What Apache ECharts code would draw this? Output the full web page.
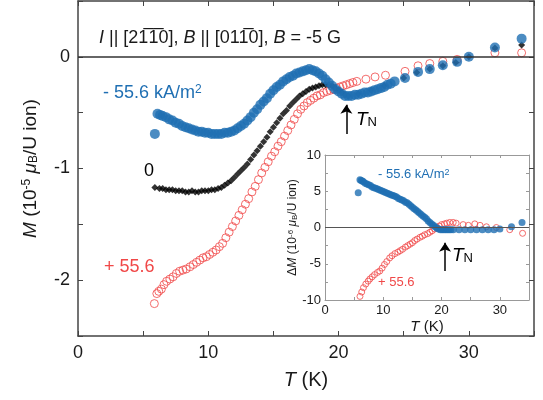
<!DOCTYPE html>
<html>
<head>
<meta charset="utf-8">
<script src="https://cdn.jsdelivr.net/npm/echarts@6/dist/echarts.min.js"></script>
<style>
  html, body { margin: 0; padding: 0; background: #fff; }
  #chart { width: 543px; height: 400px; }
</style>
</head>
<body>
<div id="chart"></div>
<script>
// main panel, M in 1e-5 muB/U ion, [T (K), M]
const blueMain = [
  [5.9,-0.69],[6.1,-0.51],[6.3,-0.52],[6.5,-0.53],[6.75,-0.54],[7.0,-0.56],[7.25,-0.57],[7.5,-0.59],
  [7.75,-0.60],[8.0,-0.62],[8.25,-0.63],[8.5,-0.64],[8.75,-0.65],[9.0,-0.66],[9.25,-0.67],[9.5,-0.67],
  [9.75,-0.68],[10.0,-0.68],[10.25,-0.69],[10.5,-0.69],[10.75,-0.69],[11.0,-0.69],[11.25,-0.68],[11.5,-0.68],
  [11.75,-0.67],[12.0,-0.66],[12.25,-0.64],[12.5,-0.62],[12.75,-0.60],[13.0,-0.57],[13.25,-0.54],[13.5,-0.50],
  [13.75,-0.47],[14.0,-0.43],[14.25,-0.40],[14.5,-0.37],[14.75,-0.33],[15.0,-0.30],[15.25,-0.27],[15.5,-0.25],
  [15.75,-0.22],[16.0,-0.20],[16.25,-0.18],[16.5,-0.17],[16.75,-0.15],[17.0,-0.14],[17.25,-0.13],[17.5,-0.12],
  [17.75,-0.11],[18.0,-0.12],[18.25,-0.13],[18.5,-0.15],[18.75,-0.17],[19.0,-0.20],[19.25,-0.23],[19.5,-0.26],
  [19.75,-0.29],[20.0,-0.31],[20.25,-0.33],[20.5,-0.35],[20.75,-0.35],[21.0,-0.35],[21.25,-0.34],[21.5,-0.34],
  [21.75,-0.33],[22.0,-0.32],[22.25,-0.32],[22.5,-0.31],[22.75,-0.30],[23.0,-0.29],[23.25,-0.28],[23.5,-0.27],
  [23.75,-0.25],[24.0,-0.24],[24.3,-0.22],[25.1,-0.19],[26.1,-0.135],[27.0,-0.11],[28.0,-0.075],[29.1,-0.045],
  [30.0,0.0],[32.0,0.083],[34.05,0.163]
];
const blackMain = [
  [5.9,-1.17],[6.25,-1.18],[6.5,-1.18],[6.75,-1.19],[7.0,-1.19],[7.25,-1.19],[7.5,-1.20],[7.75,-1.20],
  [8.0,-1.20],[8.25,-1.21],[8.5,-1.21],[8.75,-1.20],[9.0,-1.21],[9.25,-1.21],[9.5,-1.20],[9.75,-1.20],
  [10.0,-1.20],[10.25,-1.19],[10.5,-1.19],[10.75,-1.18],[11.0,-1.17],[11.25,-1.15],[11.5,-1.13],[11.75,-1.11],
  [12.0,-1.08],[12.25,-1.05],[12.5,-1.02],[12.75,-0.99],[13.0,-0.96],[13.25,-0.92],[13.5,-0.88],[13.75,-0.84],
  [14.0,-0.80],[14.25,-0.76],[14.5,-0.72],[14.75,-0.67],[15.0,-0.63],[15.25,-0.59],[15.5,-0.55],[15.75,-0.51],
  [16.0,-0.48],[16.25,-0.44],[16.5,-0.41],[16.75,-0.38],[17.0,-0.35],[17.25,-0.33],[17.5,-0.31],[17.75,-0.29],
  [18.0,-0.28],[18.25,-0.27],[18.5,-0.26],[18.75,-0.25],[19.0,-0.25],[19.25,-0.25],[19.5,-0.26],[19.75,-0.28],
  [20.0,-0.30],[20.25,-0.32],[20.5,-0.34],[20.75,-0.35],[21.5,-0.33],[22.5,-0.30],[23.5,-0.26],[25.0,-0.19],
  [26.0,-0.14],[27.0,-0.11],[28.0,-0.08],[29.0,-0.05],[30.0,0.0],[32.0,0.08],[34.05,0.105]
];
const redMain = [
  [5.86,-2.21],[6.05,-2.12],[6.2,-2.10],[6.4,-2.08],[6.6,-2.04],[6.8,-2.01],[7.05,-1.99],[7.3,-1.97],
  [7.55,-1.94],[7.8,-1.92],[8.05,-1.91],[8.3,-1.90],[8.6,-1.88],[8.85,-1.86],[9.1,-1.84],[9.35,-1.82],
  [9.6,-1.80],[9.85,-1.79],[10.1,-1.77],[10.35,-1.75],[10.6,-1.73],[10.85,-1.70],[11.1,-1.67],[11.35,-1.62],
  [11.6,-1.57],[11.85,-1.52],[12.1,-1.47],[12.35,-1.42],[12.6,-1.37],[12.85,-1.32],[13.1,-1.27],[13.35,-1.21],
  [13.6,-1.16],[13.85,-1.10],[14.1,-1.04],[14.35,-0.99],[14.6,-0.94],[14.85,-0.89],[15.1,-0.85],[15.35,-0.80],
  [15.6,-0.76],[15.85,-0.71],[16.1,-0.66],[16.35,-0.61],[16.6,-0.56],[16.85,-0.51],[17.1,-0.47],[17.35,-0.44],
  [17.6,-0.41],[17.85,-0.39],[18.1,-0.37],[18.35,-0.35],[18.6,-0.34],[18.85,-0.32],[19.1,-0.31],[19.35,-0.30],
  [19.6,-0.29],[19.85,-0.28],[20.1,-0.27],[20.35,-0.26],[20.6,-0.25],[20.85,-0.24],[21.1,-0.23],[21.4,-0.22],
  [22.1,-0.20],[22.8,-0.18],[23.6,-0.165],[25.1,-0.13],[26.1,-0.08],[27.0,-0.06],[28.0,-0.04],[29.1,-0.023],
  [32.0,0.036],[34.05,0.036]
];

// inset, dM in 1e-6 muB/U ion
const blueInset = [
  [5.7,4.8],[6.0,6.6],[6.2,6.5],[6.4,6.4],[6.6,6.3],[6.9,6.1],[7.2,6.0],[7.5,5.9],[7.8,5.8],[8.1,5.6],
  [8.4,5.5],[8.7,5.4],[9.0,5.3],[9.3,5.2],[9.6,5.1],[9.9,5.0],[10.2,4.9],[10.5,4.8],[10.8,4.7],[11.1,4.6],
  [11.4,4.5],[11.7,4.4],[12.0,4.3],[12.3,4.2],[12.6,4.0],[12.9,3.9],[13.2,3.8],[13.5,3.7],[13.8,3.5],[14.1,3.4],
  [14.4,3.2],[14.7,3.0],[15.0,2.8],[15.3,2.6],[15.6,2.4],[15.9,2.2],[16.2,2.0],[16.5,1.8],[16.8,1.6],[17.1,1.4],
  [17.4,1.2],[17.7,0.9],[18.0,0.7],[18.3,0.5],[18.6,0.3],[18.9,0.1],[19.2,-0.1],[19.5,-0.2],[19.8,-0.3],[20.1,-0.3],
  [20.4,-0.3],[20.7,-0.3],[21.0,-0.3],[21.3,-0.3],[21.6,-0.3],[22,-0.3],[23,-0.3],[24,-0.3],[25,-0.3],[26,-0.3],
  [27,-0.3],[28,-0.3],[29,-0.3],[30,-0.2],[32,0.1],[33.8,0.7]
];
const redInset = [
  [6.0,-9.5],[6.3,-8.9],[6.6,-8.3],[7.0,-7.8],[7.4,-7.4],[7.7,-7.1],[8.1,-6.8],[8.5,-6.5],[9.0,-6.2],[9.4,-6.0],
  [9.8,-5.6],[10.2,-5.1],[10.6,-4.7],[11.1,-4.2],[11.5,-3.9],[12.0,-3.6],[12.5,-3.4],[12.9,-3.2],[13.3,-3.0],[13.8,-2.7],
  [14.2,-2.5],[14.6,-2.3],[15.0,-2.1],[15.4,-1.8],[15.8,-1.6],[16.3,-1.35],[16.7,-1.2],[17.1,-1.0],[17.6,-0.85],[18.0,-0.65],
  [18.4,-0.45],[18.8,-0.2],[19.2,0.0],[19.6,0.2],[20.0,0.4],[20.5,0.5],[20.9,0.6],[21.4,0.7],[22.0,0.7],[22.5,0.6],
  [23.7,0.4],[24.6,0.3],[25.7,0.5],[26.6,0.3],[27.7,0.1],[29.4,0.0],[31.7,-0.3],[33.9,-0.8]
];

const TN = 20.6;
const mainArrow = [-0.69, -0.43];
const insetArrow = [-6.0, -2.1];

const FONT = '"Liberation Sans", Arial, sans-serif';
const BLUE = '#1f6fb3';
const RED = '#f04848';

const chart = echarts.init(document.getElementById('chart'));

function frameAxis(grid, pos, min, max, step, fmt, color, size, extra) {
  return Object.assign({
    type: 'value', gridIndex: grid, position: pos, min: min, max: max, interval: step,
    axisLine: { show: true, onZero: false, lineStyle: { color: color, width: grid === 0 ? 1.5 : 1 } },
    axisTick: { show: true, inside: true, length: grid === 0 ? 5 : 3, lineStyle: { color: color } },
    axisLabel: fmt ? { show: true, formatter: fmt, color: '#1a1a1a', fontSize: size, fontFamily: FONT, margin: grid === 0 ? 8 : 4 } : { show: false },
    splitLine: { show: false }
  }, extra || {});
}
const everyTen = v => (v % 10 === 0 ? String(v) : '');
const intOnly = v => (Number.isInteger(v) ? String(v) : '');
const everyFive = v => (v % 5 === 0 ? String(v) : '');

// rich styles for axis names (label style: color)
const richName = (size) => ({
  i: { fontStyle: 'italic', fontSize: size, fontFamily: FONT, color: '#1a1a1a' },
  sup: { fontSize: Math.round(size * 0.65), verticalAlign: 'top', fontFamily: FONT, color: '#1a1a1a' },
  sub: { fontSize: Math.round(size * 0.65), verticalAlign: 'bottom', fontFamily: FONT, color: '#1a1a1a' },
  n: { fontSize: size, fontFamily: FONT, color: '#1a1a1a' }
});
// rich styles for graphic text (zrender style: fill)
const richText = (size, col) => ({
  i: { fontStyle: 'italic', fontSize: size, fontFamily: FONT, fill: col },
  sup: { fontSize: Math.round(size * 0.68), verticalAlign: 'top', fontFamily: FONT, fill: col },
  sub: { fontSize: Math.round(size * 0.68), verticalAlign: 'bottom', fontFamily: FONT, fill: col },
  n: { fontSize: size, fontFamily: FONT, fill: col }
});

function arrowLine(from, to) {
  return {
    silent: true, symbol: ['none', 'arrow'], symbolSize: [10, 10], label: { show: false }, animation: false,
    lineStyle: { color: '#000', width: 1.5, type: 'solid' },
    data: [[
      { coord: [TN, from], symbol: 'none' },
      { coord: [TN, to], symbol: 'arrow', symbolSize: 9 }
    ]]
  };
}

const option = {
  animation: false,
  grid: [
    { left: 78, top: 1, width: 456, height: 335 },
    { left: 325, top: 155, width: 204, height: 145 }
  ],
  xAxis: [
    frameAxis(0, 'bottom', 0, 35, 5, everyTen, '#444', 18, {
      name: '{i|T}{n| (K)}', nameLocation: 'middle', nameGap: 34,
      nameTextStyle: { rich: richName(20) }
    }),
    frameAxis(0, 'top', 0, 35, 5, null, '#444', 18),
    frameAxis(1, 'bottom', 0, 35, 5, everyTen, '#999', 13, {
      name: '{i|T}{n| (K)}', nameLocation: 'middle', nameGap: 19,
      nameTextStyle: { rich: richName(15) }
    }),
    frameAxis(1, 'top', 0, 35, 5, null, '#999', 13)
  ],
  yAxis: [
    frameAxis(0, 'left', -2.5, 0.5, 0.5, intOnly, '#444', 18, {
      name: '{i|M}{n| (10}{sup|-5}{n| }{i|μ}{sub|B}{n|/U ion)}', nameLocation: 'middle', nameGap: 38,
      nameTextStyle: { rich: richName(19) }
    }),
    frameAxis(0, 'right', -2.5, 0.5, 0.5, null, '#444', 18),
    frameAxis(1, 'left', -10, 10, 2.5, everyFive, '#999', 13, {
      name: '{n|Δ}{i|M}{n| (10}{sup|-6}{n| }{i|μ}{sub|B}{n|/U ion)}', nameLocation: 'middle', nameGap: 26,
      nameTextStyle: { rich: richName(12) }
    }),
    frameAxis(1, 'right', -10, 10, 2.5, null, '#999', 13)
  ],
  series: [
    {
      type: 'scatter', xAxisIndex: 0, yAxisIndex: 0, data: redMain, symbol: 'circle', symbolSize: 8,
      itemStyle: { color: 'rgba(255,255,255,0)', borderColor: RED, borderWidth: 1 }, z: 2,
      markLine: {
        silent: true, symbol: 'none', label: { show: false }, animation: false,
        lineStyle: { color: '#333', width: 1.5, type: 'solid' },
        data: [{ yAxis: 0 }]
      }
    },
    {
      type: 'scatter', xAxisIndex: 0, yAxisIndex: 0, data: blackMain, symbol: 'diamond', symbolSize: 7,
      itemStyle: { color: '#000' }, z: 3
    },
    {
      type: 'scatter', xAxisIndex: 0, yAxisIndex: 0, data: blueMain, symbol: 'circle', symbolSize: 10,
      itemStyle: { color: BLUE }, z: 4,
      markLine: arrowLine(mainArrow[0], mainArrow[1])
    },
    {
      type: 'scatter', xAxisIndex: 2, yAxisIndex: 2, data: redInset, symbol: 'circle', symbolSize: 6,
      itemStyle: { color: 'rgba(255,255,255,0)', borderColor: RED, borderWidth: 1 }, z: 2,
      markLine: {
        silent: true, symbol: 'none', label: { show: false }, animation: false,
        lineStyle: { color: '#555', width: 1, type: 'solid' },
        data: [{ yAxis: 0 }]
      }
    },
    {
      type: 'scatter', xAxisIndex: 2, yAxisIndex: 2, data: blueInset, symbol: 'circle', symbolSize: 7,
      itemStyle: { color: BLUE }, z: 3,
      markLine: arrowLine(insetArrow[0], insetArrow[1])
    }
  ],
  graphic: [
    {
      type: 'text', left: 99, top: 29, z: 10,
      style: {
        text: '{i|I}{n| || [21\u03051\u03050], }{i|B}{n| || [011\u03050], }{i|B}{n| = -5 G}',
        rich: richText(18, '#1a1a1a')
      }
    },
    {
      type: 'text', left: 103, top: 84, z: 10,
      style: { text: '{n|- 55.6 kA/m}{sup|2}', rich: richText(18, BLUE) }
    },
    {
      type: 'text', left: 144, top: 162, z: 10,
      style: { text: '0', fontSize: 18, fontFamily: FONT, fill: '#000' }
    },
    {
      type: 'text', left: 104, top: 258, z: 10,
      style: { text: '+ 55.6', fontSize: 18, fontFamily: FONT, fill: RED }
    },
    {
      type: 'text', left: 356, top: 110, z: 10,
      style: { text: '{i|T}{sub|N}', rich: richText(19, '#000') }
    },
    {
      type: 'text', left: 378, top: 168, z: 10,
      style: { text: '{n|- 55.6 kA/m}{sup|2}', rich: richText(13, BLUE) }
    },
    {
      type: 'text', left: 378, top: 276, z: 10,
      style: { text: '+ 55.6', fontSize: 13, fontFamily: FONT, fill: RED }
    },
    {
      type: 'text', left: 452, top: 246, z: 10,
      style: { text: '{i|T}{sub|N}', rich: richText(19, '#000') }
    }
  ]
};
chart.setOption(option);
</script>
</body>
</html>
